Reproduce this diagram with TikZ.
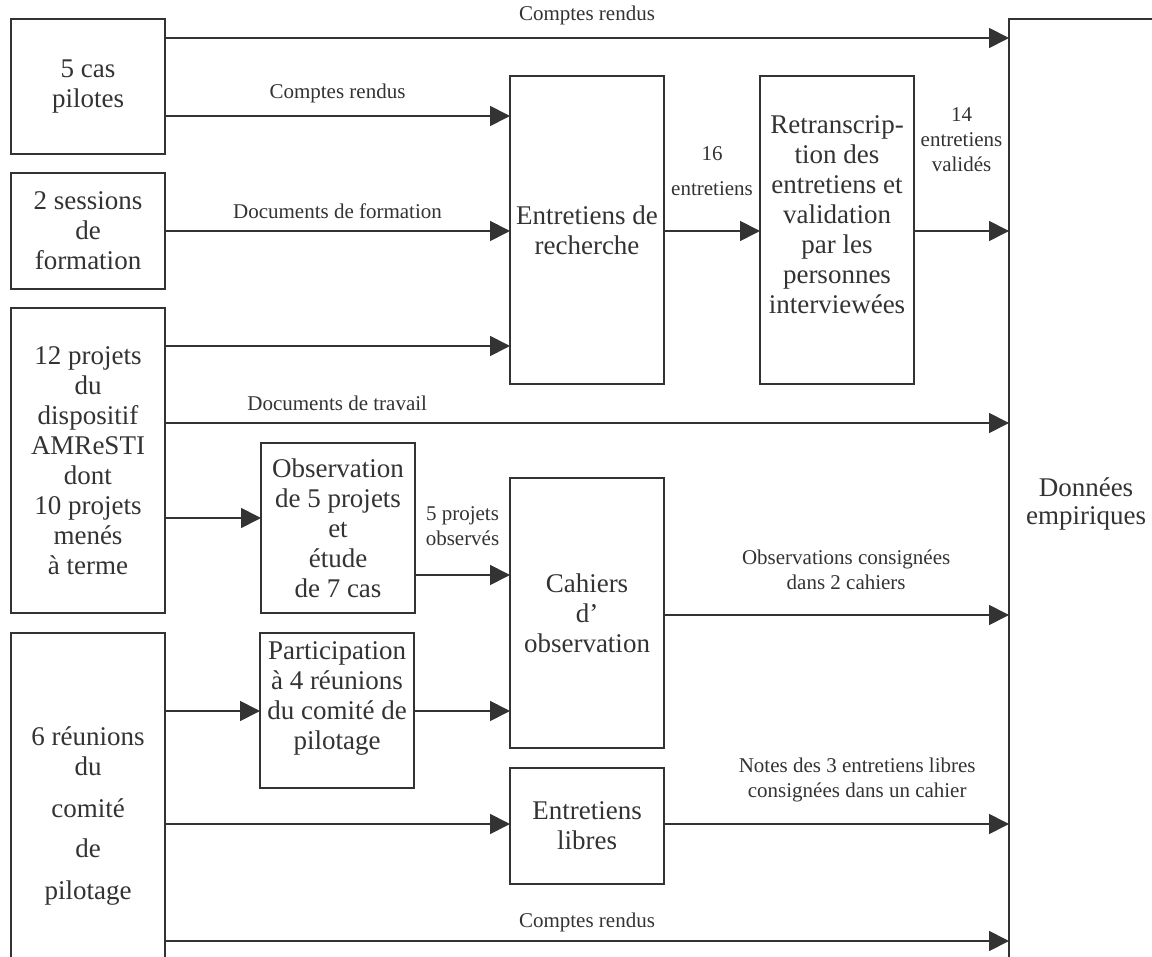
\documentclass[tikz,border=0pt]{standalone}
\usepackage{fontspec}
\setmainfont{Liberation Serif}
\usetikzlibrary{arrows.meta}
\definecolor{ink}{HTML}{333333}
\begin{document}
\begin{tikzpicture}[x=1pt,y=-1pt,
  box/.style={draw=ink, line width=2.4pt, rectangle, inner sep=0pt, outer sep=0pt,
    minimum width=154pt, align=center, text=ink, font=\fontsize{27}{30}\selectfont},
  bigtext/.style={text=ink, align=center, inner sep=0pt, font=\fontsize{27}{30}\selectfont},
  lab/.style={text=ink, align=center, inner sep=0pt, font=\fontsize{21}{25}\selectfont},
  arr/.style={draw=ink, line width=1.8pt, -{Triangle[length=20pt,width=20pt]}},
]
\useasboundingbox (0,0) rectangle (1152,957);
\clip (0,0) rectangle (1152,957);
\fill[white] (0,0) rectangle (1152,957);

% sources on the left
\node[box, minimum height=135pt] (cas) at (88,86.5) {5 cas\\pilotes};
\node[box, minimum height=116pt] (sess) at (88,231) {2 sessions\\de\\formation};
\node[box, minimum height=305pt] (proj) at (88,460.5)
  {12 projets\\du\\dispositif\\AMReSTI\\dont\\10 projets\\menés\\à terme};
\node[box, minimum height=420pt, anchor=north west] (reun) at (11,633) {};
\node[bigtext] at (88,816) {6 réunions\\du\\[12pt]comité\\[10pt]de\\[12pt]pilotage};

% intermediate activities
\node[box, minimum height=170pt] (obs) at (338,528)
  {Observation\\de 5 projets\\et\\étude\\de 7 cas};
\node[box, minimum height=155pt] (part) at (337,710.5)
  {Participation\\à 4 réunions\\du comité de\\pilotage\\[0pt]};
\node[box, minimum height=308pt] (rech) at (587,230) {Entretiens de\\recherche};
\node[box, minimum height=270pt] (cah) at (587,613) {Cahiers\\d’\\observation};
\node[box, minimum height=116pt] (libre) at (587,826) {Entretiens\\libres};
\node[box, minimum height=308pt] (retr) at (837,230)
  {Retranscrip-\\tion des\\entretiens et\\validation\\par les\\personnes\\interviewées\\[0pt]};

% collected data on the right
\node[box, minimum width=200pt, minimum height=1000pt, anchor=north west] (don) at (1009,19) {};
\node[bigtext, font=\fontsize{27}{28}\selectfont] at (1086,504) {Données\\empiriques};

% heights of the flows
\coordinate (r1) at (0,38);
\coordinate (r2) at (0,116);
\coordinate (r3) at (0,231);
\coordinate (r4) at (0,346);
\coordinate (r5) at (0,423);
\coordinate (r6) at (0,518);
\coordinate (r7) at (0,575);
\coordinate (r8) at (0,615);
\coordinate (r9) at (0,711);
\coordinate (r10) at (0,824);
\coordinate (r11) at (0,941);

% flows
\draw[arr] (cas.east |- r1) -- node[lab, pos=0.5, yshift=23pt] {Comptes rendus} (don.west |- r1);
\draw[arr] (cas.east |- r2) -- node[lab, pos=0.5, yshift=23pt] {Comptes rendus} (rech.west |- r2);
\draw[arr] (sess.east |- r3) -- node[lab, pos=0.5, yshift=20pt] {Documents de formation} (rech.west |- r3);
\draw[arr] (proj.east |- r4) -- (rech.west |- r4);
\draw[arr] (proj.east |- r5) -- node[lab, pos=0.204, yshift=20pt] {Documents de travail} (don.west |- r5);
\draw[arr] (proj.east |- r6) -- (obs.west |- r6);
\draw[arr] (obs.east |- r7) -- node[lab, pos=0.5, yshift=49pt] {5 projets\\observés} (cah.west |- r7);
\draw[arr] (cah.east |- r8) -- node[lab, pos=0.528, yshift=45pt] {Observations consignées\\dans 2 cahiers} (don.west |- r8);
\draw[arr] (reun.east |- r9) -- (part.west |- r9);
\draw[arr] (part.east |- r9) -- (cah.west |- r9);
\draw[arr] (reun.east |- r10) -- (libre.west |- r10);
\draw[arr] (libre.east |- r10) -- node[lab, pos=0.56, yshift=44pt] {Notes des 3 entretiens libres\\consignées dans un cahier} (don.west |- r10);
\draw[arr] (reun.east |- r11) -- node[lab, pos=0.5, yshift=19pt] {Comptes rendus} (don.west |- r11);
\draw[arr] (rech.east |- r3) -- node[lab, pos=0.5, yshift=60pt, font=\fontsize{21}{35}\selectfont] {16\\entretiens} (retr.west |- r3);
\draw[arr] (retr.east |- r3) -- node[lab, pos=0.5, yshift=91pt] {14\\entretiens\\validés} (don.west |- r3);
\end{tikzpicture}
\end{document}
